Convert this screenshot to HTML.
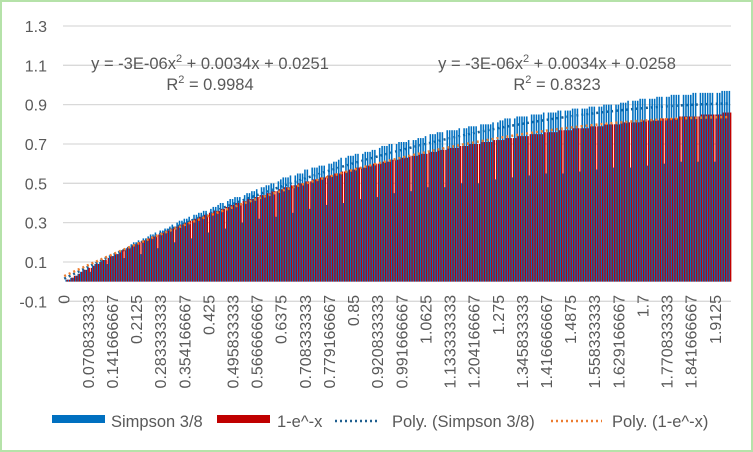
<!DOCTYPE html>
<html><head><meta charset="utf-8"><style>
html,body{margin:0;padding:0;background:#fff;}
#wrap{position:relative;width:753px;height:452px;box-sizing:border-box;border:2px solid #b5e2a9;background:#fff;overflow:hidden;}
svg{position:absolute;left:0;top:0;}
text{font-family:"Liberation Sans",sans-serif;fill:#595959;}
</style></head><body>
<div id="wrap">
<svg id="chart" width="753" height="452"></svg>
</div>
<script>
const redValues=[.00,.01,.01,.02,.03,.03,.04,.05,.06,.06,
.07,.07,.08,.09,.09,.10,.11,.11,.12,.13,
.13,.14,.14,.15,.16,.16,.17,.17,.18,.19,
.19,.20,.20,.21,.21,.22,.23,.23,.24,.24,
.25,.25,.26,.26,.27,.27,.28,.28,.29,.29,
.30,.30,.31,.31,.32,.32,.33,.33,.34,.34,
.35,.35,.36,.36,.36,.37,.37,.38,.38,.39,
.39,.40,.40,.40,.41,.41,.42,.42,.42,.43,
.43,.44,.44,.44,.45,.45,.46,.46,.46,.47,
.47,.48,.48,.48,.49,.49,.49,.50,.50,.50,
.51,.51,.51,.52,.52,.52,.53,.53,.53,.54,
.54,.54,.55,.55,.55,.56,.56,.56,.57,.57,
.57,.58,.58,.58,.58,.59,.59,.59,.60,.60,
.60,.60,.61,.61,.61,.62,.62,.62,.62,.63,
.63,.63,.63,.64,.64,.64,.64,.65,.65,.65,
.65,.66,.66,.66,.66,.67,.67,.67,.67,.68,
.68,.68,.68,.68,.69,.69,.69,.69,.70,.70,
.70,.70,.70,.71,.71,.71,.71,.71,.72,.72,
.72,.72,.72,.73,.73,.73,.73,.73,.74,.74,
.74,.74,.74,.75,.75,.75,.75,.75,.75,.76,
.76,.76,.76,.76,.76,.77,.77,.77,.77,.77,
.77,.78,.78,.78,.78,.78,.78,.78,.79,.79,
.79,.79,.79,.79,.80,.80,.80,.80,.80,.80,
.80,.81,.81,.81,.81,.81,.81,.81,.81,.82,
.82,.82,.82,.82,.82,.82,.82,.83,.83,.83,
.83,.83,.83,.83,.83,.84,.84,.84,.84,.84,
.84,.84,.84,.84,.85,.85,.85,.85,.85,.85,
.85,.85,.85,.86,.86,.86,.86];
const blueValues=[.00,.01,.01,.02,.02,.03,.04,.05,.06,.06,
.07,.05,.08,.09,.09,.10,.11,.11,.09,.13,
.13,.14,.14,.15,.16,.12,.17,.18,.19,.20,
.20,.21,.14,.22,.22,.23,.24,.24,.25,.17,
.26,.26,.27,.27,.28,.29,.20,.30,.31,.31,
.32,.32,.33,.22,.34,.34,.35,.35,.36,.36,
.25,.37,.38,.38,.39,.40,.40,.27,.41,.42,
.42,.43,.43,.43,.30,.44,.45,.45,.46,.46,
.47,.32,.48,.48,.49,.49,.50,.50,.33,.51,
.52,.53,.53,.53,.54,.35,.54,.55,.55,.55,
.57,.57,.37,.58,.58,.58,.59,.59,.59,.39,
.60,.60,.61,.61,.62,.63,.40,.63,.64,.64,
.64,.65,.65,.42,.65,.66,.66,.66,.67,.67,
.43,.68,.69,.69,.69,.70,.70,.45,.70,.71,
.71,.71,.71,.72,.46,.72,.72,.73,.73,.73,
.74,.48,.75,.75,.75,.76,.76,.76,.48,.77,
.77,.77,.77,.77,.78,.50,.78,.78,.79,.79,
.79,.79,.50,.80,.80,.80,.80,.80,.81,.52,
.81,.82,.82,.83,.83,.83,.53,.83,.84,.84,
.84,.84,.84,.54,.85,.85,.85,.85,.85,.86,
.55,.86,.86,.86,.86,.87,.87,.55,.87,.87,
.87,.88,.88,.88,.56,.88,.88,.88,.89,.89,
.89,.57,.89,.89,.90,.90,.90,.90,.58,.90,
.90,.91,.91,.91,.92,.58,.92,.92,.92,.93,
.93,.93,.59,.93,.93,.93,.94,.94,.94,.60,
.94,.94,.95,.95,.95,.95,.61,.95,.95,.95,
.95,.96,.96,.61,.96,.96,.96,.96,.96,.96,
.61,.96,.96,.97,.97,.97,.97];
const xTickLabels=["0","0.070833333","0.141666667","0.2125","0.283333333","0.354166667","0.425","0.495833333","0.566666667","0.6375","0.708333333","0.779166667","0.85","0.920833333","0.991666667","1.0625","1.133333333","1.204166667","1.275","1.345833333","1.416666667","1.4875","1.558333333","1.629166667","1.7","1.770833333","1.841666667","1.9125"];
const yTicks=[-0.1,0.1,0.3,0.5,0.7,0.9,1.1,1.3];

const NS="http://www.w3.org/2000/svg";
const svg=document.getElementById('chart');
const L=61,R=729,yTop=24,yBot=299.3,yMin=-0.1,yMax=1.3;
const N=redValues.length, cw=(R-L)/N;
function yScale(v){return yBot-(v-yMin)/(yMax-yMin)*(yBot-yTop);}
function xCat(i){return L+i*cw;}
function mk(tag,attrs,parent){const e=document.createElementNS(NS,tag);for(const k in attrs)e.setAttribute(k,attrs[k]);(parent||svg).appendChild(e);return e;}

const grid=mk('g',{});


yTicks.forEach(v=>{
  const y=yScale(v);
  const ln=mk('line',{x1:L,x2:R,y1:y,y2:y,stroke:'#d9d9d9','stroke-width':1.3},grid);
  
  
  const t=mk('text',{x:45,y:y+6,'text-anchor':'end','font-size':16});
  t.textContent=String(v);
  
  
});
function fit2(vals){
  let S=[0,0,0,0,0],T=[0,0,0];
  vals.forEach((v,i)=>{const x=i+1;for(let k=0;k<5;k++)S[k]+=Math.pow(x,k);for(let k=0;k<3;k++)T[k]+=v*Math.pow(x,k);});
  const A=[[S[0],S[1],S[2],T[0]],[S[1],S[2],S[3],T[1]],[S[2],S[3],S[4],T[2]]];
  for(let c=0;c<3;c++){for(let r=c+1;r<3;r++){const f=A[r][c]/A[c][c];for(let k=c;k<4;k++)A[r][k]-=f*A[c][k];}}
  const s=[0,0,0];
  for(let r=2;r>=0;r--){let v=A[r][3];for(let k=r+1;k<3;k++)v-=A[r][k]*s[k];s[r]=v/A[r][r];}
  return s;
}
function trend(vals,color,name){
  const c=fit2(vals);let pts=[];
  for(let i=0;i<N;i++){const x=i+1;pts.push((xCat(i)+cw/2).toFixed(2)+','+yScale(c[0]+c[1]*x+c[2]*x*x).toFixed(2));}
  const p=mk('polyline',{points:pts.join(' '),fill:'none',stroke:color,'stroke-width':2.5,'stroke-dasharray':'2 3'});
  
  
}
trend(blueValues,'#1f5f8f','trendline-simpson');
const bars=mk('g',{});


const y0=yScale(0);
for(let i=0;i<N;i++){
  const yb=yScale(blueValues[i]);
  const b=mk('rect',{x:xCat(i),y:Math.min(yb,y0),width:cw/2+0.35,height:Math.abs(y0-yb),fill:'#0070c0'},bars);
  
  
  const yr=yScale(redValues[i]);
  const r=mk('rect',{x:xCat(i)+cw/2,y:Math.min(yr,y0),width:cw/2+0.35,height:Math.abs(y0-yr),fill:'#c00000'},bars);
  
  
}
trend(redValues,'#ed7d31','trendline-exp');
xTickLabels.forEach((s,k)=>{
  const x=xCat(k*10)+cw/2+5.5;
  const t=mk('text',{x:x,y:293,'text-anchor':'end','font-size':16,transform:`rotate(-90 ${x} 293)`});
  t.textContent=s;
  
  
});
function eq(cx,l1,r2,name){
  const g=mk('g',{});
  
  
  const t=mk('text',{x:cx,y:67,'text-anchor':'middle','font-size':16.5},g);
  t.innerHTML=l1;
  const t2=mk('text',{x:cx,y:88,'text-anchor':'middle','font-size':16.5},g);
  t2.innerHTML=r2;
}
eq(208,'y = -3E-06x<tspan dy="-7" font-size="11">2</tspan><tspan dy="7"> + 0.0034x + 0.0251</tspan>','R<tspan dy="-7" font-size="11">2</tspan><tspan dy="7"> = 0.9984</tspan>','trend-equation-exp');
eq(555,'y = -3E-06x<tspan dy="-7" font-size="11">2</tspan><tspan dy="7"> + 0.0034x + 0.0258</tspan>','R<tspan dy="-7" font-size="11">2</tspan><tspan dy="7"> = 0.8323</tspan>','trend-equation-simpson');
</script>
<svg width="753" height="452" style="position:absolute;left:0;top:0">
<g><rect x="52" y="415" width="53" height="8" fill="#0070c0"/><text x="111" y="427" font-size="16.5">Simpson 3/8</text></g>
<g><rect x="217" y="415" width="53" height="8" fill="#c00000"/><text x="277" y="427" font-size="16.5">1-e^-x</text></g>
<g><line x1="335" y1="421" x2="380" y2="421" stroke="#1f5f8f" stroke-width="2.5" stroke-dasharray="2 3"/><text x="392" y="427" font-size="16.5">Poly. (Simpson 3/8)</text></g>
<g><line x1="551" y1="421" x2="602" y2="421" stroke="#ed7d31" stroke-width="2.5" stroke-dasharray="2 3"/><text x="612" y="427" font-size="16.5">Poly. (1-e^-x)</text></g>
</svg>
</body></html>
